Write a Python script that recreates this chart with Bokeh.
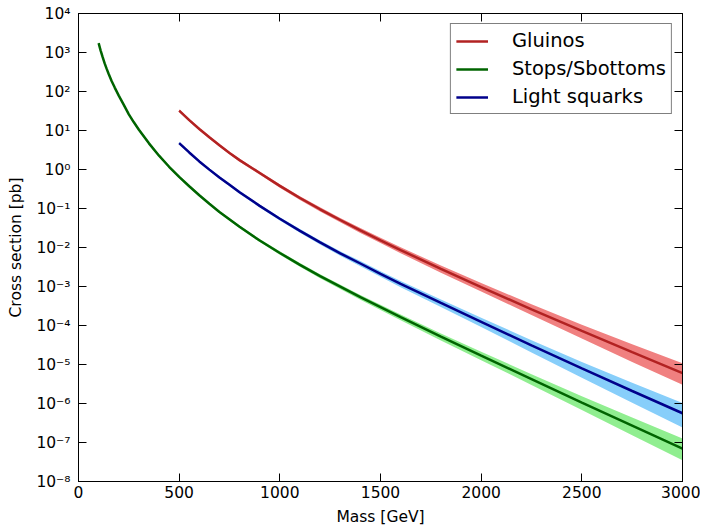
from bokeh.plotting import figure
from bokeh.models import (Range1d, FixedTicker, CustomJSTickFormatter, LinearAxis, LogAxis, ColumnDataSource)
from bokeh.embed import file_html
from bokeh.resources import INLINE

# ---- data ----
gluino_mass = [500, 550, 600, 650, 700, 750, 800, 900, 1000, 1100, 1200, 1300, 1400, 1500, 1600,
               1800, 2000, 2250, 2500, 2750, 3000]
gluino_xsec = [32.4, 18.4, 10.96, 6.68, 4.17, 2.66, 1.74, 0.813, 0.380, 0.186, 0.0955, 0.0507, 0.0275,
               0.0153, 0.0086, 0.00282, 9.66e-4, 2.6e-4, 7.24e-5, 2.07e-5, 6.03e-6]
gluino_up = [0.08, 0.08, 0.08, 0.08, 0.08, 0.08, 0.09, 0.09, 0.10, 0.11, 0.12, 0.13, 0.15, 0.16, 0.18,
             0.22, 0.27, 0.35, 0.45, 0.60, 0.78]
gluino_dn = [0.08, 0.08, 0.08, 0.08, 0.08, 0.08, 0.09, 0.09, 0.10, 0.11, 0.12, 0.13, 0.14, 0.15, 0.17,
             0.20, 0.23, 0.29, 0.36, 0.44, 0.50]

stop_mass = [100, 110, 120, 130, 140, 150, 165, 180, 200, 225, 250, 275, 300, 350, 400, 450, 500, 550,
             600, 650, 700, 800, 900, 1000, 1100, 1200, 1400, 1600, 1800, 2000, 2250, 2500, 2750, 3000]
stop_xsec = [1738, 1122, 759, 525, 380, 282, 184, 126, 78.5, 45.2, 26.0, 16.2, 10.5, 4.68, 2.26, 1.175,
             0.646, 0.372, 0.219, 0.132, 0.0813, 0.0339, 0.0151, 0.00724, 0.00359, 0.00184, 5.31e-4,
             1.64e-4, 5.19e-5, 1.68e-5, 4.22e-6, 1.06e-6, 2.72e-7, 7.0e-8]
stop_up = [0.07, 0.07, 0.07, 0.07, 0.07, 0.07, 0.07, 0.07, 0.07, 0.07, 0.07, 0.07, 0.07, 0.07, 0.07, 0.07,
           0.07, 0.07, 0.07, 0.07, 0.07, 0.08, 0.09, 0.10, 0.11, 0.12, 0.14, 0.17, 0.21, 0.26, 0.34, 0.45,
           0.60, 0.80]
stop_dn = [0.07, 0.07, 0.07, 0.07, 0.07, 0.07, 0.07, 0.07, 0.07, 0.07, 0.07, 0.07, 0.07, 0.07, 0.07, 0.07,
           0.07, 0.07, 0.07, 0.07, 0.07, 0.08, 0.09, 0.10, 0.11, 0.12, 0.14, 0.17, 0.20, 0.23, 0.29, 0.36,
           0.44, 0.50]

squark_mass = [500, 550, 600, 650, 700, 750, 800, 900, 1000, 1100, 1200, 1300, 1400, 1500, 1600,
               1800, 2000, 2250, 2500, 2750, 3000]
squark_xsec = [4.75, 2.735, 1.61, 0.993, 0.627, 0.405, 0.261, 0.117, 0.0546, 0.0267, 0.0135, 7.08e-3,
               3.89e-3, 2.11e-3, 1.17e-3, 3.8e-4, 1.245e-4, 3.09e-5, 7.94e-6, 2.09e-6, 5.62e-7]
squark_up = [0.08, 0.08, 0.08, 0.08, 0.08, 0.08, 0.09, 0.09, 0.10, 0.11, 0.12, 0.13, 0.15, 0.16, 0.18,
             0.22, 0.27, 0.36, 0.47, 0.62, 0.82]
squark_dn = [0.08, 0.08, 0.08, 0.08, 0.08, 0.08, 0.09, 0.09, 0.10, 0.11, 0.12, 0.13, 0.15, 0.16, 0.18,
             0.22, 0.27, 0.34, 0.42, 0.50, 0.57]

series_names = ["Gluinos", "Stops/Sbottoms", "Light squarks"]
line_colors = ["#B22222", "#006400", "#00008B"]
band_colors = ["#F08080", "#90EE90", "#87CEFA"]

x_ticks = [0, 500, 1000, 1500, 2000, 2500, 3000]
y_ticks = [1e-8, 1e-7, 1e-6, 1e-5, 1e-4, 1e-3, 1e-2, 1e-1, 1e0, 1e1, 1e2, 1e3, 1e4]

FONT = "DejaVu Sans"

p = figure(width=700, height=528, x_axis_type="linear", y_axis_type="log",
           x_range=Range1d(0, 3000), y_range=Range1d(1e-8, 1e4),
           output_backend="svg", toolbar_location=None,
           min_border_left=78, min_border_right=18, min_border_top=13, min_border_bottom=46)
p.grid.visible = False
p.outline_line_color = "black"
p.outline_line_width = 1
p.background_fill_color = "white"
p.border_fill_color = "white"

sup_js = """
const e = Math.round(Math.log10(tick));
const sup = {'-':'\u207b','0':'\u2070','1':'\u00b9','2':'\u00b2','3':'\u00b3','4':'\u2074','5':'\u2075','6':'\u2076','7':'\u2077','8':'\u2078','9':'\u2079'};
return '10' + String(e).split('').map(c => sup[c]).join('');
"""

def style_axis(ax):
    ax.major_tick_in = 8
    ax.major_tick_out = 0
    ax.minor_tick_in = 0
    ax.minor_tick_out = 0
    ax.axis_line_color = "black"
    ax.major_tick_line_color = "black"
    ax.major_label_text_font = FONT
    ax.major_label_text_font_size = "15.5px"
    ax.major_label_text_color = "black"
    ax.axis_label_text_font = FONT
    ax.axis_label_text_font_size = "15.5px"
    ax.axis_label_text_font_style = "normal"
    ax.axis_label_text_color = "black"

xa = p.xaxis[0]
xa.ticker = FixedTicker(ticks=x_ticks)
xa.axis_label = "Mass [GeV]"
style_axis(xa)
xa.major_label_standoff = 4
xa.axis_label_standoff = 7

ya = p.yaxis[0]
ya.ticker = FixedTicker(ticks=y_ticks)
ya.formatter = CustomJSTickFormatter(code=sup_js)
ya.axis_label = "Cross section [pb]"
style_axis(ya)
ya.major_label_standoff = 8
ya.axis_label_standoff = 8

top = LinearAxis(ticker=FixedTicker(ticks=x_ticks))
style_axis(top)
top.major_label_text_color = None
top.major_label_text_font_size = "0px"
p.add_layout(top, "above")

right = LogAxis(ticker=FixedTicker(ticks=y_ticks))
style_axis(right)
right.major_label_text_color = None
right.major_label_text_font_size = "0px"
p.add_layout(right, "right")

all_series = [
    (gluino_mass, gluino_xsec, gluino_up, gluino_dn),
    (stop_mass, stop_xsec, stop_up, stop_dn),
    (squark_mass, squark_xsec, squark_up, squark_dn),
]

for (m, xs, up, dn), name, lc, bc in zip(all_series, series_names, line_colors, band_colors):
    src = ColumnDataSource(dict(
        m=m, xs=xs,
        hi=[v * (1 + u) for v, u in zip(xs, up)],
        lo=[v * (1 - d) for v, d in zip(xs, dn)],
    ))
    p.varea(x="m", y1="lo", y2="hi", source=src, fill_color=bc, fill_alpha=1.0)
    p.line(x="m", y="xs", source=src, line_color=lc, line_width=2.5, legend_label=name)

lg = p.legend[0]
lg.location = "top_right"
lg.margin = 10
lg.padding = 5
lg.spacing = 5
lg.glyph_width = 32
lg.glyph_height = 20
lg.label_height = 20
lg.label_standoff = 24
lg.label_text_font = FONT
lg.label_text_font_size = "19.5px"
lg.label_text_color = "black"
lg.border_line_color = "black"
lg.border_line_width = 1
lg.background_fill_alpha = 1.0

open("out.html", "w").write(file_html(p, INLINE))
